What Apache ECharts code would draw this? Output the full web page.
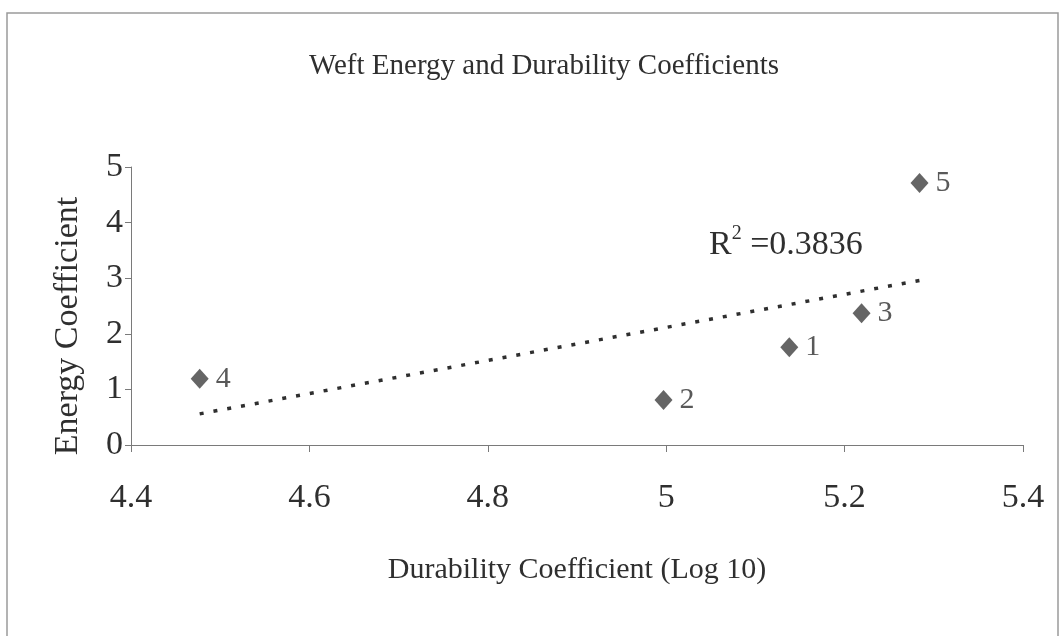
<!DOCTYPE html>
<html>
<head>
<meta charset="utf-8">
<script src="https://cdn.jsdelivr.net/npm/echarts@6/dist/echarts.min.js"></script>
<style>
html,body{margin:0;padding:0;background:#fff;}
#chart{width:1060px;height:636px;}
</style>
</head>
<body>
<div id="chart"></div>
<script>
// Data
var pointIds = ['1', '2', '3', '4', '5'];
var durability = [5.138, 4.997, 5.219, 4.477, 5.284];
var energy = [1.76, 0.81, 2.37, 1.19, 4.71];
// Linear trendline ends (as drawn in the picture)
var trendX = [4.477, 5.284];
var trendY = [0.56, 2.96];
var rSquared = '0.3836';
var xTicks = { min: 4.4, max: 5.4, interval: 0.2 };
var yTicks = { min: 0, max: 5, interval: 1 };

var FONT = '"Liberation Serif", "Times New Roman", serif';
var TEXT = '#2f2f2f';
var AXIS = '#7a7a7a';

var chart = echarts.init(document.getElementById('chart'), null, { renderer: 'canvas' });

var scatterData = pointIds.map(function (id, i) {
  return { value: [durability[i], energy[i]], name: id };
});
var trendData = trendX.map(function (x, i) { return [x, trendY[i]]; });

chart.setOption({
  backgroundColor: '#fff',
  animation: false,
  title: {
    text: 'Weft Energy and Durability Coefficients',
    left: 539,
    top: 47,
    textAlign: 'center',
    textStyle: { fontFamily: FONT, fontSize: 29, fontWeight: 'normal', color: TEXT }
  },
  grid: { left: 131, right: 37, top: 167, bottom: 191, containLabel: false },
  xAxis: {
    type: 'value',
    min: xTicks.min, max: xTicks.max, interval: xTicks.interval,
    name: 'Durability Coefficient (Log 10)',
    nameLocation: 'middle',
    nameGap: 110,
    nameTextStyle: { fontFamily: FONT, fontSize: 30, color: TEXT },
    axisLine: { show: true, onZero: false, lineStyle: { color: AXIS, width: 1 } },
    axisTick: { show: true, inside: false, length: 7, lineStyle: { color: AXIS } },
    axisLabel: { fontFamily: FONT, fontSize: 34, color: TEXT, margin: 36,
      formatter: function (v) { return String(Math.round(v * 10) / 10); } },
    splitLine: { show: false }
  },
  yAxis: {
    type: 'value',
    min: yTicks.min, max: yTicks.max, interval: yTicks.interval,
    axisLine: { show: true, lineStyle: { color: AXIS, width: 1 } },
    axisTick: { show: true, inside: false, length: 6, lineStyle: { color: AXIS } },
    axisLabel: { fontFamily: FONT, fontSize: 34, color: TEXT, margin: 8 },
    splitLine: { show: false }
  },
  graphic: [
    {
      type: 'rect',
      shape: { x: 7, y: 13, width: 1051, height: 640 },
      style: { fill: null, stroke: '#9a9a9a', lineWidth: 1.5 },
      silent: true, z: -1
    },
    {
      type: 'text',
      x: 68, y: 326,
      rotation: Math.PI / 2,
      style: {
        text: 'Energy Coefficient',
        fontFamily: FONT, fontSize: 34, fill: TEXT,
        textAlign: 'center', textVerticalAlign: 'middle'
      }
    },
    {
      type: 'text',
      x: 709, y: 243,
      style: {
        text: '{r|R}{s|2}{r| =' + rSquared + '}',
        fontFamily: FONT, fill: TEXT,
        textAlign: 'left', textVerticalAlign: 'middle',
        rich: {
          r: { fontFamily: FONT, fontSize: 34, fill: TEXT, color: TEXT, verticalAlign: 'bottom' },
          s: { fontFamily: FONT, fontSize: 20, fill: TEXT, color: TEXT, verticalAlign: 'top', padding: [0, 0, 18, 0] }
        }
      }
    }
  ],
  series: [
    {
      type: 'line',
      data: trendData,
      symbol: 'none',
      lineStyle: { color: '#2f2f2f', width: 3.5, type: [4, 10] },
      z: 1
    },
    {
      type: 'scatter',
      data: scatterData,
      symbol: 'diamond',
      symbolSize: [18, 20],
      itemStyle: { color: '#3e3e3e' },
      label: {
        show: true, position: 'right', distance: 7,
        formatter: function (p) { return p.name; },
        fontFamily: FONT, fontSize: 30, color: TEXT
      },
      z: 2
    }
  ]
});
</script>
</body>
</html>
